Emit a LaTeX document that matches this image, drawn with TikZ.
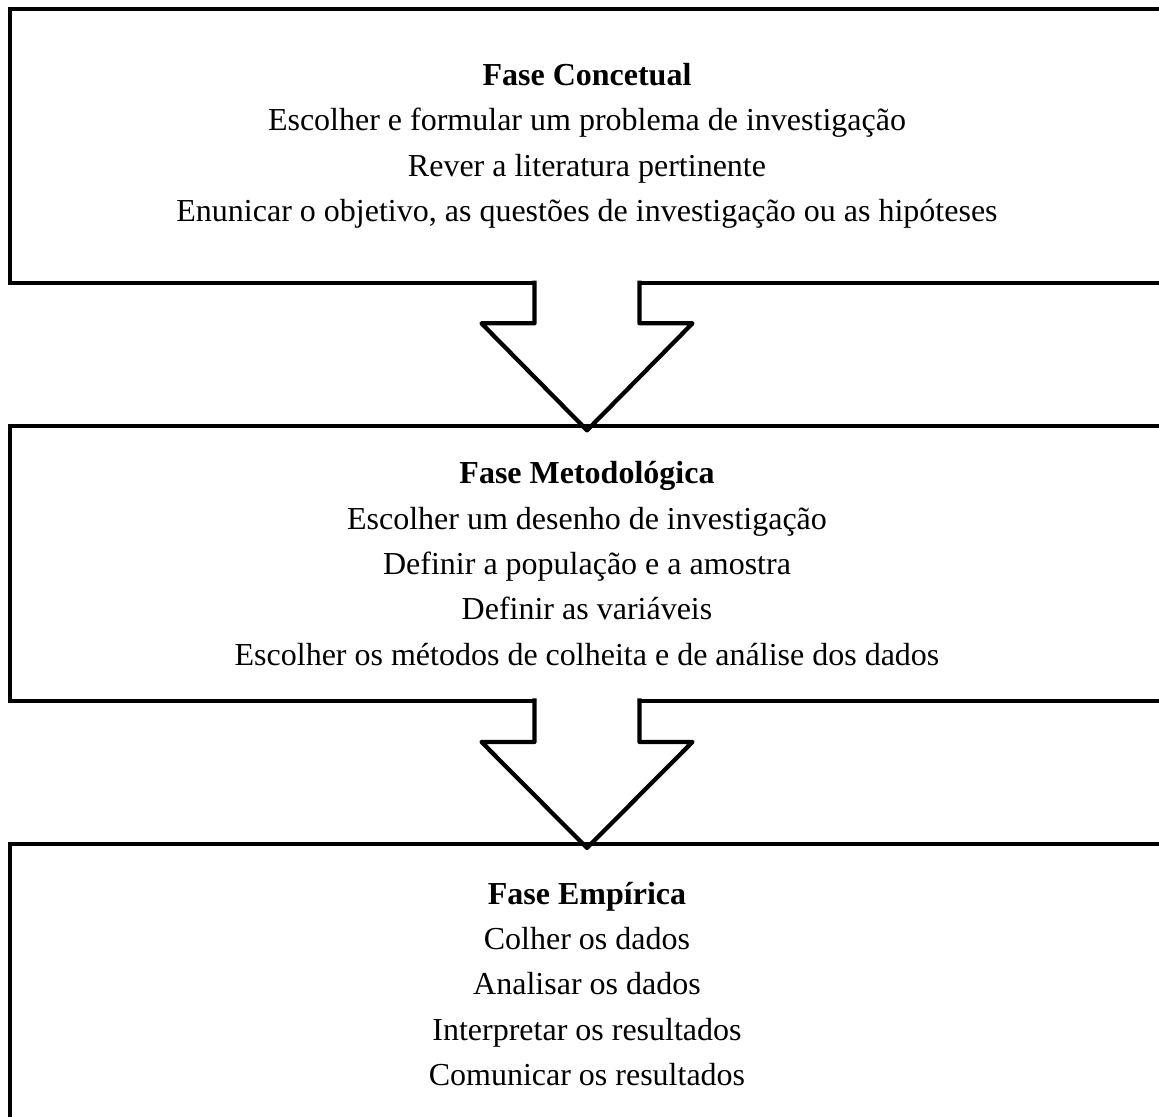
\documentclass[tikz,border=0pt]{standalone}
\usepackage{fontspec}
\setmainfont{Liberation Serif}
\usetikzlibrary{positioning,calc}

\tikzset{
    fase/.style={draw, line width=1.6pt, outer sep=0pt, align=center,
        minimum width=432.5pt, minimum height=103pt, inner sep=0pt,
        font=\fontsize{12}{17}\selectfont},
    seta/.style={draw, fill=white, line width=1.6pt, line join=round}
}

\begin{document}
\begin{tikzpicture}[x=0.375pt,y=-0.375pt,node distance=53.6pt]
    \clip (0,0) rectangle (1159,1116);

    % Fases
    \node[fase] (concetual) at (587,146) {\textbf{Fase Concetual}\\
        Escolher e formular um problema de investigação\\
        Rever a literatura pertinente\\
        Enunicar o objetivo, as questões de investigação ou as hipóteses};

    \draw[seta] ($(concetual.south)+(-52.5,-2.6)$) -- ($(concetual.south)+(-52.5,40)$)
        -- ($(concetual.south)+(-105.5,40)$) -- ($(concetual.south)+(0,147)$)
        -- ($(concetual.south)+(105.5,40)$) -- ($(concetual.south)+(52.5,40)$)
        -- ($(concetual.south)+(52.5,-2.6)$);

    \node[fase, below=of concetual] (metodologica) {\textbf{Fase Metodológica}\\
        Escolher um desenho de investigação\\
        Definir a população e a amostra\\
        Definir as variáveis\\
        Escolher os métodos de colheita e de análise dos dados};

    \draw[seta] ($(metodologica.south)+(-52.5,-2.6)$) -- ($(metodologica.south)+(-52.5,41)$)
        -- ($(metodologica.south)+(-105.5,41)$) -- ($(metodologica.south)+(0,147)$)
        -- ($(metodologica.south)+(105.5,41)$) -- ($(metodologica.south)+(52.5,41)$)
        -- ($(metodologica.south)+(52.5,-2.6)$);

    \node[fase, below=of metodologica, minimum height=105pt] (empirica) {\textbf{Fase Empírica}\\
        Colher os dados\\
        Analisar os dados\\
        Interpretar os resultados\\
        Comunicar os resultados};
\end{tikzpicture}
\end{document}
